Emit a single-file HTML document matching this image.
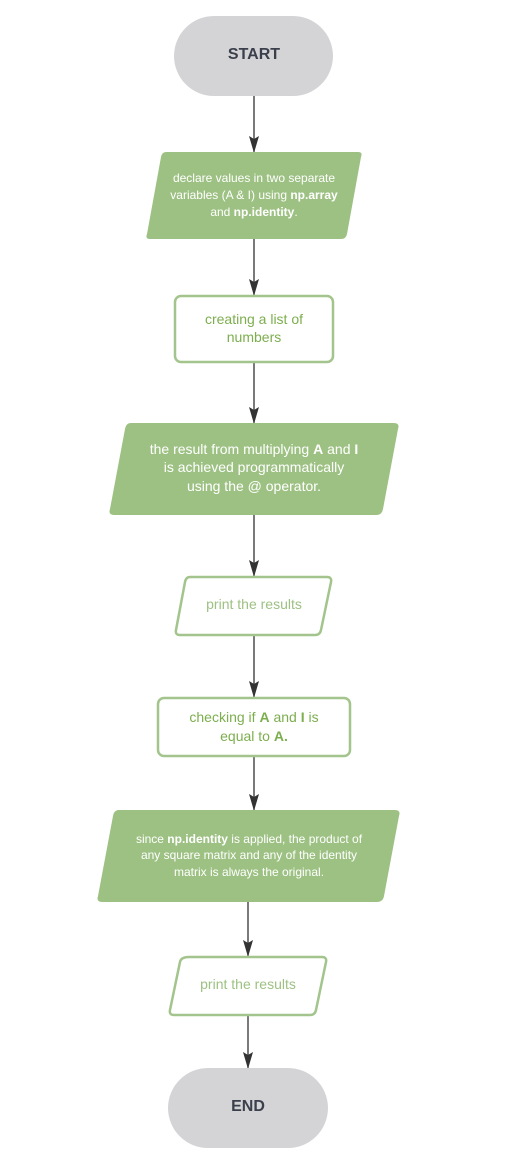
<!DOCTYPE html>
<html><head><meta charset="utf-8"><style>
html,body{margin:0;padding:0;background:#fff;}
svg{display:block;font-family:"Liberation Sans",Arial,sans-serif;}
</style></head><body>
<svg width="508" height="1169" viewBox="0 0 508 1169" xmlns="http://www.w3.org/2000/svg">
<defs><marker id="a" markerWidth="17" markerHeight="10" refX="16" refY="5" orient="auto" markerUnits="userSpaceOnUse"><path d="M0,0 L17,5 L0,10 L3,5 z" fill="#333"/></marker></defs>
<g stroke="#333" stroke-width="1.3" marker-end="url(#a)">
<line x1="254" y1="96" x2="254" y2="152"/>
<line x1="254" y1="239" x2="254" y2="295"/>
<line x1="254" y1="363" x2="254" y2="423"/>
<line x1="254" y1="515" x2="254" y2="576"/>
<line x1="254" y1="636" x2="254" y2="697"/>
<line x1="254" y1="757" x2="254" y2="810"/>
<line x1="248" y1="902" x2="248" y2="956"/>
<line x1="248" y1="1016" x2="248" y2="1068"/>
</g>
<rect x="174" y="16" width="159" height="80" rx="40" fill="#d4d4d6"/>
<text x="254" y="59" text-anchor="middle" font-size="16" font-weight="bold" fill="#3a3f4b">START</text>
<path d="M166,152 L358,152 Q363,152 361,157 L347,234 Q346,239 341,239 L150,239 Q145,239 147,234 L161,157 Q162,152 166,152Z" fill="#9dc183"/>
<g font-size="12" fill="#fff" text-anchor="middle">
<text x="254" y="182">declare values in two separate</text>
<text x="254" y="199">variables (A &amp; I) using <tspan font-weight="bold">np.array</tspan></text>
<text x="254" y="216">and <tspan font-weight="bold">np.identity</tspan>.</text>
</g>
<rect x="175" y="296" width="158" height="66" rx="6" fill="#fff" stroke="#a3c48c" stroke-width="2.5"/>
<g font-size="14" fill="#7cae4e" text-anchor="middle">
<text x="254" y="324">creating a list of</text>
<text x="254" y="342">numbers</text>
</g>
<path d="M131,423 L394,423 Q400,423 398,429 L383,509 Q382,515 376,515 L114,515 Q108,515 110,509 L125,429 Q126,423 131,423Z" fill="#9dc183"/>
<g font-size="14" fill="#fff" text-anchor="middle">
<text x="254" y="454">the result from multiplying <tspan font-weight="bold">A</tspan> and <tspan font-weight="bold">I</tspan></text>
<text x="254" y="472">is achieved programmatically</text>
<text x="254" y="491">using the @ operator.</text>
</g>
<path d="M190,577 L327,577 Q332,577 331,582 L321,630 Q320,635 315,635 L180,635 Q175,635 176,630 L185,582 Q186,577 190,577Z" fill="#fff" stroke="#a3c48c" stroke-width="2.5"/>
<text x="254" y="609" font-size="14" fill="#9dc183" text-anchor="middle">print the results</text>
<rect x="158" y="698" width="192" height="58" rx="6" fill="#fff" stroke="#a3c48c" stroke-width="2.5"/>
<g font-size="14" fill="#7cae4e" text-anchor="middle">
<text x="254" y="722">checking if <tspan font-weight="bold">A</tspan> and <tspan font-weight="bold">I</tspan> is</text>
<text x="254" y="741">equal to <tspan font-weight="bold">A.</tspan></text>
</g>
<path d="M119,810 L395,810 Q401,810 399,816 L384,896 Q383,902 377,902 L102,902 Q96,902 98,896 L113,816 Q114,810 119,810Z" fill="#9dc183"/>
<g font-size="12" fill="#fff" text-anchor="middle">
<text x="249" y="843">since <tspan font-weight="bold">np.identity</tspan> is applied, the product of</text>
<text x="249" y="859">any square matrix and any of the identity</text>
<text x="249" y="876">matrix is always the original.</text>
</g>
<path d="M189,957 L322,957 Q327,957 326,962 L316,1010 Q315,1015 310,1015 L174,1015 Q169,1015 170,1010 L180,962 Q181,957 189,957Z" fill="#fff" stroke="#a3c48c" stroke-width="2.5"/>
<text x="248" y="989" font-size="14" fill="#9dc183" text-anchor="middle">print the results</text>
<rect x="168" y="1068" width="160" height="80" rx="40" fill="#d4d4d6"/>
<text x="248" y="1111" text-anchor="middle" font-size="16" font-weight="bold" fill="#3a3f4b">END</text>
</svg>
</body></html>
